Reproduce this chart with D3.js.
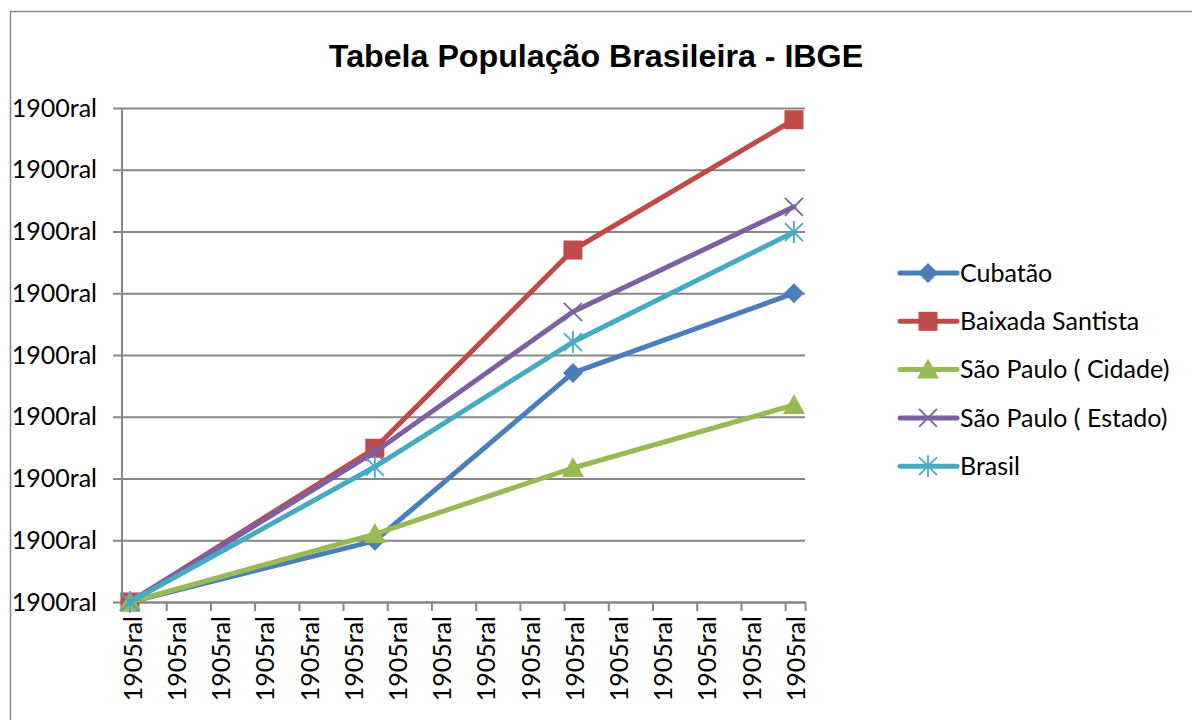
<!DOCTYPE html>
<html>
<head>
<meta charset="utf-8">
<script src="https://cdn.jsdelivr.net/npm/d3@7"></script>
<style>
  body { margin: 0; background: #fff; }
  svg { display: block; }
</style>
</head>
<body>
<div id="chart"></div>
<script>
// data (y in gridline units, x in axis slots)
var seriesNames = ["Cubatão", "Baixada Santista", "São Paulo ( Cidade)", "São Paulo ( Estado)", "Brasil"];
var xPoints = [0.18, 5.72, 10.2, 15.2];
var cubatao = [0, 0.99, 3.71, 5.0];
var baixada = [0, 2.49, 5.70, 7.81];
var spCidade = [0, 1.10, 2.17, 3.19];
var spEstado = [0, 2.43, 4.70, 6.40];
var brasil = [0, 2.19, 4.21, 5.99];
var yTickLabels = ["1900ral", "1900ral", "1900ral", "1900ral", "1900ral", "1900ral", "1900ral", "1900ral", "1900ral"];
var xTickLabels = d3.range(16).map(function() { return "1905ral"; });
var colors = ["#4A7EBB", "#BE4B48", "#98B954", "#7D60A0", "#46AAC5"];
var markers = ["diamond", "square", "triangle", "x", "asterisk"];

var allSeries = [cubatao, baixada, spCidade, spEstado, brasil];

//SVG area
var svgWidth = 1192;
var svgHeight = 720;
var plot = { left: 122, right: 805, top: 108, bottom: 602 };

var svg = d3.select("#chart").append("svg")
    .attr("width", svgWidth)
    .attr("height", svgHeight);

//outer chart border
svg.append("rect")
    .attr("x", 10.5).attr("y", 11.5)
    .attr("width", 1200).attr("height", 730)
    .attr("fill", "none")
    .attr("stroke", "#878787")
    .attr("stroke-width", 1.5);

//title
svg.append("text")
    .attr("x", 596).attr("y", 67)
    .attr("text-anchor", "middle")
    .style("font-family", "'Liberation Sans', Arial, sans-serif")
    .style("font-weight", "bold")
    .style("font-size", "32.2px")
    .text("Tabela População Brasileira - IBGE");

//scales
var xScale = d3.scaleLinear().domain([0, 15.45]).range([plot.left, plot.right]);
var yScale = d3.scaleLinear().domain([0, 8]).range([plot.bottom, plot.top]);

var labelFont = "Lato, 'Open Sans', sans-serif";

//horizontal gridlines + left axis
var leftAxis = d3.axisLeft(yScale)
    .tickValues(d3.range(9))
    .tickSize(plot.right - plot.left + 9)
    .tickPadding(16)
    .tickFormat(function(d, i) { return yTickLabels[i]; });

var yAxisG = svg.append("g")
    .attr("transform", `translate(${plot.right}, 0)`)
    .call(leftAxis);
yAxisG.select(".domain").remove();
yAxisG.selectAll(".tick line")
    .attr("stroke", "#878787")
    .attr("stroke-width", 2);
yAxisG.selectAll(".tick text")
    .attr("x", -(plot.right - plot.left) - 25)
    .style("font-family", labelFont)
    .style("font-size", "25px")
    .attr("fill", "#000");

//y axis line
svg.append("line")
    .attr("x1", plot.left).attr("x2", plot.left)
    .attr("y1", plot.top).attr("y2", plot.bottom)
    .attr("stroke", "#878787").attr("stroke-width", 2);

//bottom axis
var bottomAxis = d3.axisBottom(xScale)
    .tickValues(d3.range(16))
    .tickSize(9)
    .tickFormat("");
var xAxisG = svg.append("g")
    .attr("transform", `translate(0, ${plot.bottom})`)
    .call(bottomAxis);
xAxisG.select(".domain")
    .attr("stroke", "#878787").attr("stroke-width", 2);
xAxisG.selectAll(".tick line")
    .attr("stroke", "#878787").attr("stroke-width", 2);

//rotated x labels
svg.append("g").selectAll("text")
    .data(xTickLabels)
    .enter()
    .append("text")
    .attr("transform", (d, i) => `translate(${xScale(i + 0.25)}, 616)rotate(-90)`)
    .attr("text-anchor", "end")
    .attr("dy", "0.35em")
    .style("font-family", labelFont)
    .style("font-size", "25px")
    .text(d => d);

//marker drawing
function drawMarker(g, type, color) {
    if (type === "diamond") {
        g.append("path").attr("d", "M0,-10L10,0L0,10L-10,0Z").attr("fill", color);
    } else if (type === "square") {
        g.append("rect").attr("x", -9.5).attr("y", -9.5).attr("width", 19).attr("height", 19).attr("fill", color);
    } else if (type === "triangle") {
        g.append("path").attr("d", "M0,-11L11,9L-11,9Z").attr("fill", color);
    } else if (type === "x") {
        g.append("path").attr("d", "M-9,-9L9,9M-9,9L9,-9")
            .attr("stroke", color).attr("stroke-width", 1.8).attr("fill", "none");
    } else if (type === "asterisk") {
        g.append("path").attr("d", "M-9,-9L9,9M-9,9L9,-9M0,-11L0,11")
            .attr("stroke", color).attr("stroke-width", 1.8).attr("fill", "none");
    }
}

var line = d3.line()
    .x((d, i) => xScale(xPoints[i]))
    .y(d => yScale(d));

allSeries.forEach(function(values, s) {
    var g = svg.append("g");
    g.append("path")
        .datum(values)
        .attr("d", line)
        .attr("fill", "none")
        .attr("stroke", colors[s])
        .attr("stroke-width", 5)
        .attr("stroke-linejoin", "round")
        .attr("stroke-linecap", "round");
    values.forEach(function(v, i) {
        var mg = g.append("g")
            .attr("transform", `translate(${xScale(xPoints[i])}, ${yScale(v)})`);
        drawMarker(mg, markers[s], colors[s]);
    });
});

//legend
var legend = svg.append("g");
seriesNames.forEach(function(name, s) {
    var y = 273 + s * 48.3;
    legend.append("line")
        .attr("x1", 900).attr("x2", 957)
        .attr("y1", y).attr("y2", y)
        .attr("stroke", colors[s]).attr("stroke-width", 5)
        .attr("stroke-linecap", "round");
    var mg = legend.append("g").attr("transform", `translate(928, ${y})`);
    drawMarker(mg, markers[s], colors[s]);
    legend.append("text")
        .attr("x", 960).attr("y", y)
        .attr("dy", "0.35em")
        .style("font-family", labelFont)
        .style("font-size", "25px")
        .text(name);
});
</script>
</body>
</html>
